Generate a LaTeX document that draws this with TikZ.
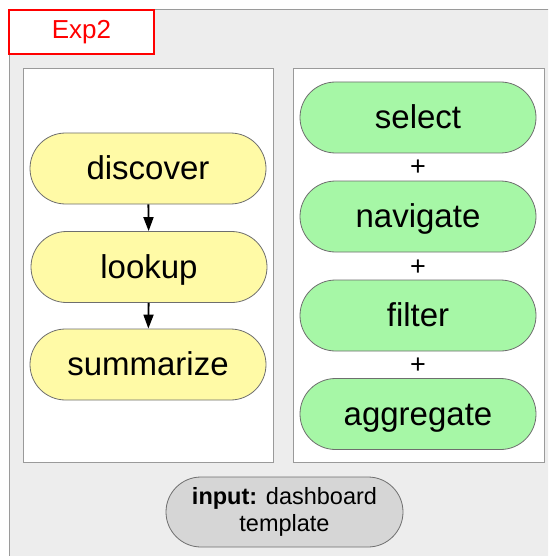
\documentclass[tikz,border=0pt]{standalone}
\usepackage{fontspec}
\setmainfont{Liberation Sans}
\usetikzlibrary{arrows.meta}
\definecolor{frame}{HTML}{EDEDED}
\definecolor{frameline}{HTML}{9A9A9A}
\definecolor{pill}{HTML}{6E6E6E}
\definecolor{yel}{HTML}{FFFAA6}
\definecolor{grn}{HTML}{A6F7A6}
\definecolor{gry}{HTML}{D6D6D6}
\tikzset{
  panel/.style={draw=frameline, fill=white, line width=1pt},
  pillbox/.style={draw=pill, line width=0.8pt, rounded corners=35.5pt,
    minimum width=236pt, minimum height=71pt, inner sep=0pt,
    text height=24pt, text depth=2pt,
    font=\fontsize{33}{38}\selectfont},
  yelbox/.style={pillbox, fill=yel},
  grnbox/.style={pillbox, fill=grn},
  plus/.style={font=\fontsize{27}{30}\selectfont, inner sep=0pt},
  flow/.style={-{Triangle[length=14pt,width=10pt]}, line width=1.8pt, black}
}
\begin{document}
\begin{tikzpicture}[x=1pt, y=-1pt]
\useasboundingbox (0,0) rectangle (548,556);
\clip (0,0) rectangle (548,556);
% outer experiment frame
\draw[draw=frameline, fill=frame, line width=1pt] (9,10) rectangle (570,580);
% title tab
\node[draw=red, fill=white, line width=1.5pt, minimum width=145pt, minimum height=44pt,
  inner sep=0pt, text=red, font=\fontsize{26}{30}\selectfont] (title) at (81.5,32) {Exp2};
% two panels
\draw[panel] (23,69) rectangle (273,462);
\draw[panel] (293,69) rectangle (544,462);
% left column: sequential steps
\node[yelbox] (discover) at (148,168.5) {discover};
\node[yelbox] (lookup) at (149,267) {lookup};
\node[yelbox] (summarize) at (148,364.5) {summarize};
\draw[flow] (discover) -- (lookup);
\draw[flow] (lookup) -- (summarize);
% right column: combined operations
\node[grnbox] (select) at (418,117.5) {select};
\node[grnbox] (navigate) at (418,216.5) {navigate};
\node[grnbox] (filter) at (418,315.5) {filter};
\node[grnbox] (aggregate) at (418,414) {aggregate};
\node[plus] (p1) at (418,168) {+};
\node[plus] (p2) at (418,267.5) {+};
\node[plus] (p3) at (418,365.5) {+};
% input
\node[draw=pill, fill=gry, line width=0.8pt, rounded corners=35pt,
  minimum width=237pt, minimum height=70pt, inner sep=0pt, align=center,
  font=\fontsize{23.5}{27}\selectfont] (input) at (284.5,512)
  {\textbf{input:} dashboard\\template};
\end{tikzpicture}
\end{document}
